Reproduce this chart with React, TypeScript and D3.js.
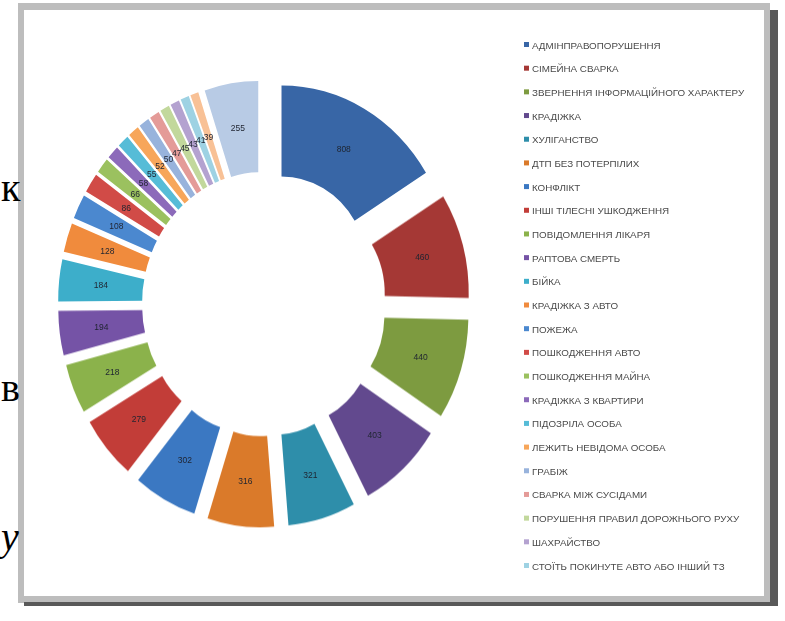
import React, { useRef, useEffect } from 'react';
import * as d3 from 'd3';

// categories in slice order (legend shows the first 23 only)
const categories = [
  'АДМІНПРАВОПОРУШЕННЯ',
  'СІМЕЙНА СВАРКА',
  'ЗВЕРНЕННЯ  ІНФОРМАЦІЙНОГО ХАРАКТЕРУ',
  'КРАДІЖКА',
  'ХУЛІГАНСТВО',
  'ДТП БЕЗ ПОТЕРПІЛИХ',
  'КОНФЛІКТ',
  'ІНШІ ТІЛЕСНІ УШКОДЖЕННЯ',
  'ПОВІДОМЛЕННЯ  ЛІКАРЯ',
  'РАПТОВА СМЕРТЬ',
  'БІЙКА',
  'КРАДІЖКА З АВТО',
  'ПОЖЕЖА',
  'ПОШКОДЖЕННЯ  АВТО',
  'ПОШКОДЖЕННЯ  МАЙНА',
  'КРАДІЖКА З КВАРТИРИ',
  'ПІДОЗРІЛА ОСОБА',
  'ЛЕЖИТЬ НЕВІДОМА ОСОБА',
  'ГРАБІЖ',
  'СВАРКА МІЖ СУСІДАМИ',
  'ПОРУШЕННЯ  ПРАВИЛ  ДОРОЖНЬОГО РУХУ',
  'ШАХРАЙСТВО',
  'СТОЇТЬ ПОКИНУТЕ  АВТО АБО  ІНШИЙ ТЗ',
  'ІНШЕ 1',
  'ІНШЕ',
];

const values = [
  808, 460, 440, 403, 321, 316, 302, 279, 218, 194, 184, 128, 108, 86, 66, 58,
  55, 52, 50, 47, 45, 43, 41, 39, 255,
];

const legendCount = 23;

// excel-ish palette: base, darker, lighter tints
const palette = [
  '#3766a6', '#a53834', '#7d9b40', '#624a8e', '#2f8eaa', '#da7a2a',
  '#3b78c2', '#c23d38', '#8bb24b', '#7552a6', '#3caeca', '#f08b3c',
  '#4c88cf', '#d14c47', '#9bc15e', '#8c6aba', '#56bcd7', '#f7a65a',
  '#98b3dc', '#e49b98', '#c2d89c', '#b4a2d0', '#9ed2e3', '#f8c196',
  '#b8cbe5',
];

const App: React.FC = () => {
  const svgRef = useRef<SVGSVGElement | null>(null);

  useEffect(() => {
    if (!svgRef.current) return;
    const svg = d3.select(svgRef.current);
    svg.selectAll('*').remove();

    const defs = svg.append('defs');
    defs
      .append('filter')
      .attr('id', 'soft')
      .append('feGaussianBlur')
      .attr('stdDeviation', 0.6);

    // frame
    svg.append('rect').attr('x', 18).attr('y', 3).attr('width', 752).attr('height', 600).attr('fill', '#bdbdbd');
    svg.append('rect').attr('x', 770).attr('y', 10).attr('width', 8).attr('height', 596).attr('fill', '#595959');
    svg.append('rect').attr('x', 24).attr('y', 602).attr('width', 754).attr('height', 4).attr('fill', '#595959');
    svg.append('rect').attr('x', 24).attr('y', 10).attr('width', 740).attr('height', 586).attr('fill', '#ffffff');

    // letters from the surrounding document
    const doc = [
      { t: 'к', x: 1, y: 201, it: false },
      { t: 'в', x: 1, y: 401, it: false },
      { t: 'у', x: 1, y: 550, it: true },
    ];
    svg
      .selectAll('text.doc')
      .data(doc)
      .join('text')
      .attr('class', 'doc')
      .attr('x', (d) => d.x)
      .attr('y', (d) => d.y)
      .attr('font-family', '"Liberation Serif", serif')
      .attr('font-size', 40)
      .attr('font-style', (d) => (d.it ? 'italic' : 'normal'))
      .attr('fill', '#000')
      .text((d) => d.t);

    const cx = 264;
    const cy = 304;
    const sy = 1.085;
    const outerR = 170;
    const innerR = 86;
    const explode = 36;

    const pie = d3
      .pie<number>()
      .sort(null)
      .value((d) => d);
    const arcs = pie(values);
    const arc = d3.arc<d3.PieArcDatum<number>>().innerRadius(innerR).outerRadius(outerR);

    const chart = svg.append('g').attr('filter', 'url(#soft)');
    const ring = chart.append('g').attr('transform', `translate(${cx},${cy}) scale(1,${sy})`);

    const off = (a: d3.PieArcDatum<number>) => {
      const m = (a.startAngle + a.endAngle) / 2;
      return [explode * Math.sin(m), -explode * Math.cos(m)];
    };

    ring
      .selectAll('path')
      .data(arcs)
      .join('path')
      .attr('d', (d) => arc(d) as string)
      .attr('transform', (d) => {
        const [ox, oy] = off(d);
        return `translate(${ox},${oy})`;
      })
      .attr('fill', (d, i) => palette[i % palette.length]);

    chart
      .selectAll('text.lbl')
      .data(arcs)
      .join('text')
      .attr('class', 'lbl')
      .attr('x', (d) => cx + arc.centroid(d)[0] + off(d)[0])
      .attr('y', (d) => cy + (arc.centroid(d)[1] + off(d)[1]) * sy)
      .attr('text-anchor', 'middle')
      .attr('dominant-baseline', 'central')
      .attr('font-family', '"Liberation Sans", Arial, sans-serif')
      .attr('font-size', 8.5)
      .attr('fill', '#1f2430')
      .text((d) => d.data);

    // legend
    const ly = d3
      .scaleLinear()
      .domain([0, legendCount - 1])
      .range([45, 566]);
    const legend = chart
      .selectAll('g.leg')
      .data(categories.slice(0, legendCount))
      .join('g')
      .attr('class', 'leg')
      .attr('transform', (d, i) => `translate(524,${ly(i)})`);
    legend
      .append('rect')
      .attr('x', 0)
      .attr('y', -3)
      .attr('width', 5)
      .attr('height', 5)
      .attr('fill', (d, i) => palette[i]);
    legend
      .append('text')
      .attr('x', 8)
      .attr('y', 0)
      .attr('dominant-baseline', 'central')
      .attr('font-family', '"Liberation Sans", Arial, sans-serif')
      .attr('font-size', 9.8)
      .attr('fill', '#4a4a4a')
      .text((d) => d);
  }, []);

  return (
    <svg
      ref={svgRef}
      width={785}
      height={621}
      style={{ position: 'absolute', left: 0, top: 0 }}
    ></svg>
  );
};

export default App;
